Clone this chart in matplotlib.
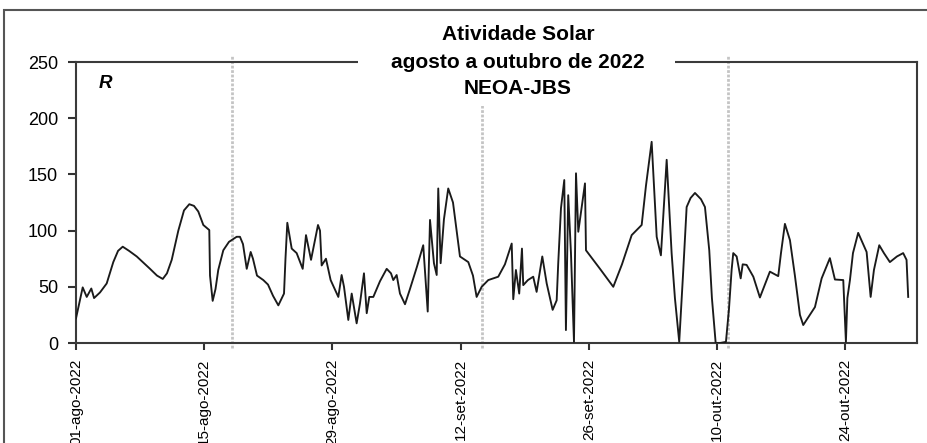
import numpy as np
import matplotlib
matplotlib.use("Agg")
import matplotlib.pyplot as plt
import matplotlib.dates as mdates
from matplotlib.patches import Rectangle

plt.rcParams['font.family'] = ['Liberation Sans', 'DejaVu Sans']

# numero de Wolf R, dias desde 01-ago-2022 (varias leituras por dia)
dia = [0.00, 0.73, 1.17, 1.67, 1.97, 2.62, 3.35, 4.07, 4.59, 5.10,
       5.79, 6.63, 8.08, 8.84, 9.47, 9.93, 10.45, 11.17, 11.79, 12.37,
       12.88, 13.35, 13.90, 14.55, 14.63, 14.92, 15.23, 15.53, 16.08, 16.70,
       17.54, 17.90, 18.23, 18.64, 19.07, 19.32, 19.76, 20.45, 20.96, 21.51,
       22.09, 22.71, 22.87, 23.07, 23.55, 24.09, 24.75, 25.11, 25.66, 26.42,
       26.64, 26.82, 27.29, 27.80, 28.64, 29.00, 29.26, 29.73, 30.10, 30.64,
       31.00, 31.44, 31.74, 32.02, 32.46, 33.19, 33.92, 34.39, 34.64, 35.01,
       35.37, 35.92, 36.46, 37.23, 37.91, 38.40, 38.65, 39.08, 39.38, 39.55,
       39.81, 40.17, 40.64, 41.16, 41.92, 42.83, 43.34, 43.74, 44.29, 45.01,
       46.10, 46.83, 47.57, 47.74, 48.03, 48.39, 48.69, 48.83, 49.34, 49.92,
       50.29, 50.91, 51.39, 52.04, 52.48, 52.65, 52.95, 53.31, 53.49, 53.74,
       54.04, 54.37, 54.59, 54.84, 55.57, 55.68, 57.21, 58.66, 59.61, 60.67,
       61.76, 62.23, 62.85, 63.40, 63.86, 64.49, 65.03, 65.39, 65.86, 66.27,
       66.67, 67.10, 67.58, 68.23, 68.67, 69.14, 69.43, 69.84, 70.31, 70.96,
       71.29, 71.58, 71.76, 72.13, 72.57, 72.79, 73.22, 73.95, 74.67, 75.22,
       75.76, 76.67, 76.97, 77.40, 77.95, 78.49, 79.04, 79.40, 80.68, 81.41,
       82.31, 82.86, 83.77, 84.06, 84.22, 84.50, 84.83, 85.40, 86.32, 86.76,
       87.12, 87.70, 88.21, 88.86, 89.63, 90.31, 90.68, 90.86]
r = [22, 49.5, 41, 48.5, 40, 45, 53, 72, 82, 85.7,
     82, 77, 66, 60, 57, 62, 74, 100, 118, 123.5,
     122, 117, 105, 100.5, 60, 37.5, 48, 65, 82.5, 90,
     94.5, 94.5, 88, 66, 81, 75, 60, 56, 52, 42,
     33.5, 44, 75, 107, 84, 80, 66, 96, 74, 105,
     100, 69, 75, 56, 41, 60.5, 50, 20.5, 44, 17.5,
     35, 62, 26.5, 41, 41, 55, 66, 62, 56, 60.5,
     44, 34.5, 48, 68, 87, 28, 109.5, 71, 60.5, 137.5,
     71, 110, 137.5, 125, 77, 72, 60, 41, 50, 56,
     59, 70, 88.5, 39, 65, 44, 84, 51.5, 56, 59,
     45.5, 77, 53, 29.5, 38, 71, 120, 145, 11.5, 131.5,
     80, 1, 151, 99, 142, 82.5, 66, 50, 70, 96,
     105, 140, 179, 94.5, 78, 163, 80, 40, 1, 60,
     121, 129, 133.5, 128, 121, 82.5, 40, 0, 0, 1,
     30, 65, 80, 77, 57.5, 70, 69.5, 59, 40.5, 52,
     63.5, 59.5, 80, 106, 91.5, 60, 25, 16, 32, 57.5,
     75.5, 56.5, 56, 1, 40, 56, 80, 98, 81, 41,
     65, 87, 80, 72, 77, 80, 74, 41]

# inicio das rotacoes de Carrington
rotacoes = ['2022-08-18T00:00', '2022-09-14T07:00', '2022-10-11T05:00']

datas_ticks = ['2022-08-01', '2022-08-15', '2022-08-29', '2022-09-12',
               '2022-09-26', '2022-10-10', '2022-10-24']
rotulos_ticks = ['01-ago-2022', '15-ago-2022', '29-ago-2022', '12-set-2022',
                 '26-set-2022', '10-out-2022', '24-out-2022']

inicio = mdates.date2num(np.datetime64('2022-08-01T00:00'))
x = inicio + np.array(dia)

fig = plt.figure(figsize=(9.27, 4.43), dpi=100)
ax = fig.add_axes([0.082, 0.2257, 0.907, 0.6343])

ax.plot(x, r, color='#1a1a1a', lw=1.35, solid_joinstyle='round', zorder=3)

xr = mdates.date2num(np.array(rotacoes, dtype='datetime64[m]'))
ax.vlines(xr, -4.5, 255.5, colors='#c4c4c4', lw=2.0, linestyles=(0, (1, 0.6)),
          clip_on=False, zorder=2)

ax.set_xlim(inicio, inicio + 91.8)
ax.set_ylim(0, 250)
ax.set_yticks(range(0, 251, 50))
ax.set_xticks(mdates.date2num(np.array(datas_ticks, dtype='datetime64[D]')))
ax.set_xticklabels(rotulos_ticks, rotation=90, fontsize=11)
ax.tick_params(axis='y', labelsize=13, length=6, width=1.5, pad=7, color='#333333')
ax.tick_params(axis='x', length=5, width=1.5, pad=6, color='#333333')

for s in ax.spines.values():
    s.set_color('#3a3a3a')
    s.set_linewidth(1.5)

ax.text(0.0345, 0.923, 'R', transform=ax.transAxes, fontsize=13.5,
        fontweight='bold', fontstyle='italic', ha='center', va='center')

# moldura externa do grafico
fig.patches.append(Rectangle((4 / 927, -0.1), 1.2, 1 - 10 / 443 + 0.1,
                             transform=fig.transFigure, fill=False,
                             edgecolor='#555555', lw=1.5, zorder=1))

# fundo branco do titulo sobre a borda superior
fig.patches.append(Rectangle((358 / 927, 1 - 106 / 443), 317 / 927, 86 / 443,
                             transform=fig.transFigure, facecolor='white',
                             edgecolor='none', zorder=5))

cx = 518 / 927
for txt, yp in [('Atividade Solar', 35), ('agosto a outubro de 2022', 62),
                ('NEOA-JBS', 88.5)]:
    fig.text(cx, 1 - yp / 443, txt, ha='center', va='center',
             fontsize=15, fontweight='bold', zorder=6)

fig.savefig('out.png', dpi=100)
